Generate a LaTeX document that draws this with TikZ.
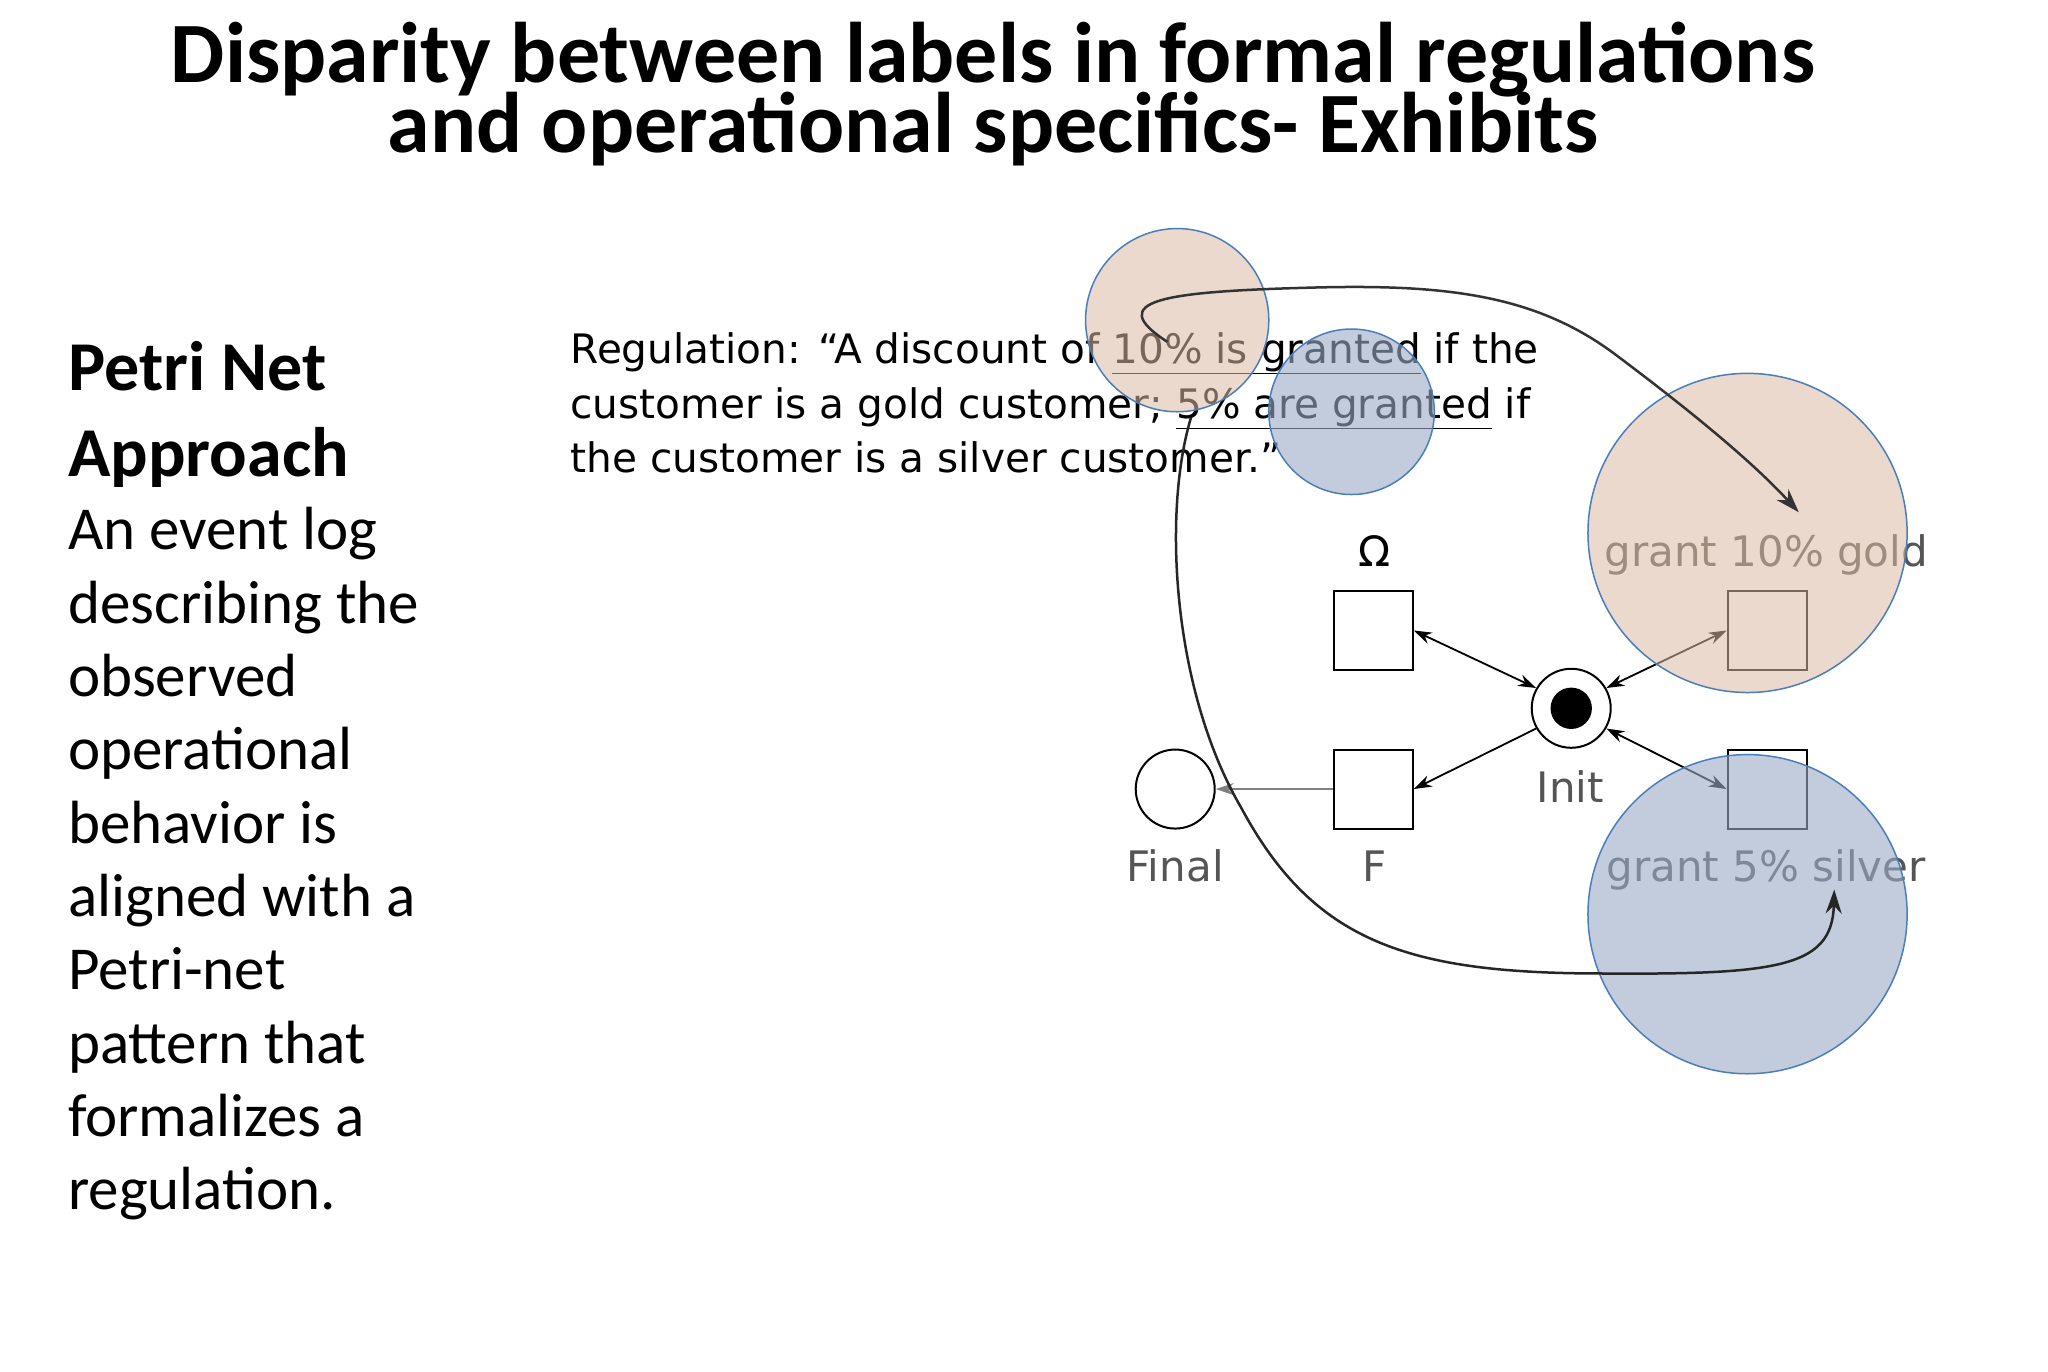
\documentclass[tikz,border=0pt]{standalone}
\usepackage{fontspec}
\setmainfont{Carlito}
\newfontfamily\regfont{DejaVu Sans}
\usetikzlibrary{arrows.meta}
\definecolor{pinkfill}{HTML}{D9BBA3}
\definecolor{bluefill}{HTML}{9AAAC6}
\definecolor{circedge}{HTML}{4A7EBB}
\definecolor{greytxt}{HTML}{555555}
\tikzset{
  trans/.style={draw=black,line width=2pt,fill=white,minimum width=79pt,minimum height=79pt,inner sep=0pt},
  place/.style={circle,draw=black,line width=2pt,fill=white,minimum size=79pt,inner sep=0pt},
  netlbl/.style={font=\regfont\fontsize{42}{46}\selectfont,text=greytxt,inner sep=0pt},
  arc/.style={line width=1.8pt,-{Stealth[length=18pt,width=12pt]}},
  darc/.style={line width=1.8pt,{Stealth[length=18pt,width=12pt]}-{Stealth[length=18pt,width=12pt]}},
}
\begin{document}
\begin{tikzpicture}[x=0.985pt,y=-0.985pt]
\useasboundingbox[fill=white] (0,0) rectangle (2079,1392);
% title
\node[anchor=base,inner sep=0pt,font=\bfseries\fontsize{86}{72}\selectfont] (t1) at (1008,84) {Disparity between labels in formal regulations};
\node[anchor=base,inner sep=0pt,font=\bfseries\fontsize{86}{72}\selectfont] (t2) at (1008,155) {and operational specifics- Exhibits};
% left text (anchor base = last line)
\node[anchor=base west,inner sep=0pt,font=\bfseries\fontsize{70}{86}\selectfont,align=left] (h) at (69,484) {Petri Net\\Approach};
\node[anchor=base west,inner sep=0pt,font=\fontsize{61}{73.3}\selectfont,align=left] (body) at (69,1228) {An event log\\describing the\\observed\\operational\\behavior is\\aligned with a\\Petri-net\\pattern that\\formalizes a\\regulation.};
% regulation
\node[anchor=base west,inner sep=0pt,font=\regfont\fontsize{40.6}{54.7}\selectfont,align=left] (reg) at (579,480) {Regulation: “A discount of \underline{10\% is granted} if the\\customer is a gold customer; \underline{5\% are granted} if\\the customer is a silver customer.”};
% petri net
\node[trans] (om) at (1394,640) {};
\node[trans] (fb) at (1394,801) {};
\node[trans] (gb) at (1794,640) {};
\node[trans] (sb) at (1794,801) {};
\node[place] (init) at (1595,719) {};
\fill (init.center) circle (21);
\node[place] (fin) at (1193,801) {};
\node[netlbl,text=black,anchor=base] (oml) at (1395,575) {Ω};
\node[netlbl,anchor=base] (fl) at (1395,895) {F};
\node[netlbl,anchor=base] (il) at (1594,815) {Init};
\node[netlbl,anchor=base] (finl) at (1193,895) {Final};
\node[netlbl,anchor=base] (gl) at (1793,575) {grant 10\% gold};
\node[netlbl,anchor=base] (sl) at (1793,895) {grant 5\% silver};
\draw[darc] (om.east) -- (init.150);
\draw[darc] (init.30) -- (gb.west);
\draw[arc] (init.210) -- (fb.east);
\draw[darc] (init.330) -- (sb.west);
\draw[arc,draw=gray] (fb.west) -- (fin.east);
% highlight circles
\fill[pinkfill,fill opacity=0.55] (1195,325) circle (93);
\draw[circedge,line width=1.5pt] (1195,325) circle (93);
\fill[bluefill,fill opacity=0.6] (1372,418) circle (84);
\draw[circedge,line width=1.5pt] (1372,418) circle (84);
\fill[pinkfill,fill opacity=0.55] (1774,541) circle (162);
\draw[circedge,line width=1.5pt] (1774,541) circle (162);
\fill[bluefill,fill opacity=0.6] (1774,928) circle (162);
\draw[circedge,line width=1.5pt] (1774,928) circle (162);
% links
\coordinate (c1s) at (1185,347);
\coordinate (c1e) at (1826,520);
\draw[line width=2.5pt,-{Stealth[length=24pt,width=16pt]},draw=black!80] (c1s) .. controls (1120,305) and (1180,296) .. (1330,292) .. controls (1470,288) and (1560,300) .. (1640,360) .. controls (1720,420) and (1780,470) .. (c1e);
\coordinate (c2s) at (1209,424);
\coordinate (c2e) at (1862,903);
\draw[line width=2.5pt,-{Stealth[length=24pt,width=16pt]},draw=black!85] (c2s) .. controls (1180,520) and (1190,700) .. (1260,820) .. controls (1330,950) and (1420,985) .. (1600,988) .. controls (1800,990) and (1860,985) .. (c2e);
\end{tikzpicture}
\end{document}
